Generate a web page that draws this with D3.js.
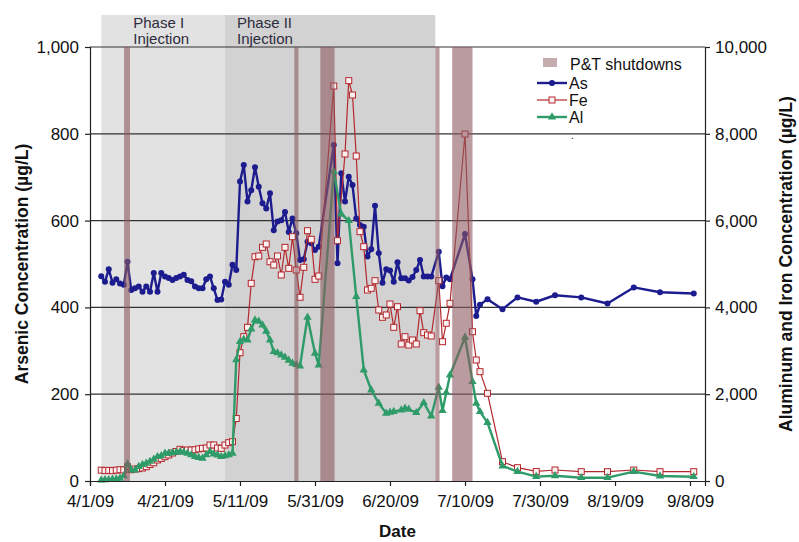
<!DOCTYPE html>
<html>
<head>
<meta charset="utf-8">
<script src="https://cdn.jsdelivr.net/npm/d3@7"></script>
<style>
  body { margin: 0; background: #fff; }
  svg { display: block; font-family: "Liberation Sans", Arial, sans-serif; }
</style>
</head>
<body>
<svg id="chart" width="799" height="542"></svg>
<script>
// sample dates and concentrations (As in ug/L, left axis; Fe and Al in ug/L, right axis)
const sampleDates = [
  "4/4/09","4/5/09","4/6/09","4/7/09","4/8/09","4/9/09","4/10/09","4/11/09","4/12/09","4/13/09",
  "4/14/09","4/15/09","4/16/09","4/17/09","4/18/09","4/19/09","4/20/09","4/21/09","4/22/09","4/23/09",
  "4/24/09","4/25/09","4/26/09","4/27/09","4/28/09","4/29/09","4/30/09","5/1/09","5/2/09","5/3/09",
  "5/4/09","5/5/09","5/6/09","5/7/09","5/8/09","5/9/09","5/10/09","5/11/09","5/12/09","5/13/09",
  "5/14/09","5/15/09","5/16/09","5/17/09","5/18/09","5/19/09","5/20/09","5/21/09","5/22/09","5/23/09",
  "5/24/09","5/25/09","5/26/09","5/27/09","5/28/09","5/29/09","5/30/09","5/31/09","6/1/09",
  "6/5/09","6/6/09","6/7/09","6/8/09","6/9/09","6/10/09","6/11/09","6/12/09","6/13/09","6/14/09",
  "6/15/09","6/16/09","6/17/09","6/18/09","6/19/09","6/20/09","6/21/09","6/22/09","6/23/09","6/24/09",
  "6/25/09","6/26/09","6/27/09","6/28/09","6/29/09","6/30/09","7/1/09",
  "7/3/09","7/4/09","7/5/09","7/6/09","7/10/09","7/12/09","7/13/09","7/14/09","7/16/09",
  "7/20/09","7/24/09","7/29/09","8/3/09","8/10/09","8/17/09","8/24/09","8/31/09","9/9/09"
];
const asValues = [
  472,459,488,457,465,455,452,505,440,444,
  448,436,448,436,479,436,479,471,468,463,
  468,471,475,463,460,448,444,444,465,471,
  444,417,418,459,452,498,486,690,728,644,
  670,723,678,640,628,663,578,598,601,620,
  574,605,571,509,511,551,548,532,540,
  774,502,709,644,701,682,605,590,586,517,
  534,634,525,457,488,485,459,504,467,467,
  462,470,486,509,471,471,471,
  528,449,469,465,569,465,380,406,419,
  396,423,413,428,423,409,446,435,432
];
const feValues = [
  250,240,245,238,250,260,255,330,260,275,
  285,300,330,380,420,484,520,560,600,645,
  680,730,700,714,714,720,740,753,760,829,
  830,760,753,829,883,906,1440,2956,3325,3541,
  4555,5168,5184,5384,5461,5053,4977,5184,4747,5384,
  4900,5629,4862,4233,4924,5767,5569,4647,4723,
  9101,5537,null,7535,9224,8894,7488,5745,5399,4401,
  4440,4615,3940,3772,3825,4078,3541,4016,3157,3325,
  3134,3249,3157,3924,3418,3364,3341,
  4615,3210,3634,4094,7995,3440,2788,2519,2020,
  445,307,220,253,215,215,253,215,215
];
const alValues = [
  23,25,30,38,45,61,120,392,250,253,
  330,380,407,450,500,560,580,637,640,650,
  660,675,660,640,600,560,540,522,600,676,
  620,599,560,580,600,637,2790,3210,3264,3249,
  3500,3710,3680,3594,3450,3249,2979,2950,2900,2850,
  2780,2712,2680,2650,null,3772,null,2942,2673,
  7127,null,6152,null,5998,null,4247,null,2558,null,
  2097,null,1790,null,1560,1580,1600,null,1636,1675,
  1652,null,1574,null,1804,null,1498,
  2159,1620,2035,2442,3311,2288,1790,1597,1344,
  346,215,100,120,76,76,215,115,99
];

// shaded periods
const phaseNames = [["Phase I", "Injection"], ["Phase II", "Injection"]];
const phaseStart = ["4/4/09 00:00", "5/7/09 00:00"];
const phaseEnd = ["5/7/09 00:00", "7/2/09 02:00"];
const shutdownStart = ["4/10/09 02:00", "5/25/09 12:00", "6/1/09 10:00", "7/2/09 02:00", "7/6/09 14:00"];
const shutdownEnd = ["4/11/09 16:00", "5/26/09 14:00", "6/5/09 05:00", "7/3/09 05:00", "7/12/09 00:00"];

const xTickLabels = ["4/1/09","4/21/09","5/11/09","5/31/09","6/20/09","7/10/09","7/30/09","8/19/09","9/8/09"];
const leftTicks = [0, 200, 400, 600, 800, 1000];
const rightTicks = [0, 2000, 4000, 6000, 8000, 10000];

const parseDay = d3.timeParse("%m/%d/%y");
const parseTime = d3.timeParse("%m/%d/%y %H:%M");

const svg = d3.select("#chart");
const plotLeft = 90, plotRight = 705, plotTop = 47, plotBottom = 481;

const x = d3.scaleTime()
  .domain([parseDay("4/1/09"), parseDay("9/12/09")])
  .range([plotLeft, plotRight]);
const yL = d3.scaleLinear().domain([0, 1000]).range([plotBottom, plotTop]);
const yR = d3.scaleLinear().domain([0, 10000]).range([plotBottom, plotTop]);

// phase shading (goes above the plot area)
const phaseFill = ["#e2e2e2", "#d2d2d2"];
phaseStart.forEach((s, i) => {
  const x0 = x(parseTime(s)), x1 = x(parseTime(phaseEnd[i]));
  svg.append("rect")
    .attr("x", x0).attr("y", 15)
    .attr("width", x1 - x0).attr("height", plotBottom - 15)
    .attr("fill", phaseFill[i]);
  const tx = x0 + (i === 0 ? 32 : 12);
  const t = svg.append("text")
    .attr("font-size", 15)
    .attr("fill", "#2c2c3c");
  phaseNames[i].forEach((line, j) => {
    t.append("tspan").attr("x", tx).attr("y", 28 + j * 16).text(line);
  });
});

// gridlines
svg.append("g")
  .selectAll("line")
  .data(leftTicks.filter(d => d > 0))
  .join("line")
  .attr("x1", plotLeft).attr("x2", plotRight)
  .attr("y1", d => yL(d)).attr("y2", d => yL(d))
  .attr("stroke", "#333").attr("stroke-width", 1.2);

// series
const rows = sampleDates.map((d, i) => ({
  date: parseDay(d), as: asValues[i], fe: feValues[i], al: alValues[i]
}));

const asColor = "#1c1c8f", feColor = "#b3282d", alColor = "#2e9b69";

function drawLine(key, scale, color, width) {
  const pts = rows.filter(r => r[key] != null);
  svg.append("path")
    .datum(pts)
    .attr("fill", "none")
    .attr("stroke", color)
    .attr("stroke-width", width)
    .attr("stroke-linejoin", "round")
    .attr("d", d3.line().x(r => x(r.date)).y(r => scale(r[key])));
  return pts;
}

const asPts = drawLine("as", yL, asColor, 2.4);
svg.append("g").selectAll("circle")
  .data(asPts).join("circle")
  .attr("cx", r => x(r.date)).attr("cy", r => yL(r.as))
  .attr("r", 3).attr("fill", asColor);

const fePts = drawLine("fe", yR, feColor, 1.2);
svg.append("g").selectAll("rect")
  .data(fePts).join("rect")
  .attr("x", r => x(r.date) - 3).attr("y", r => yR(r.fe) - 3)
  .attr("width", 6).attr("height", 6)
  .attr("fill", "#fdf0f0").attr("stroke", feColor).attr("stroke-width", 1);

const alPts = drawLine("al", yR, alColor, 2.4);
const tri = d3.symbol().type(d3.symbolTriangle).size(30);
svg.append("g").selectAll("path")
  .data(alPts).join("path")
  .attr("transform", r => `translate(${x(r.date)},${yR(r.al)})`)
  .attr("d", tri).attr("fill", alColor);

// P&T shutdown bars drawn over the data
shutdownStart.forEach((s, i) => {
  const x0 = x(parseTime(s)), x1 = x(parseTime(shutdownEnd[i]));
  svg.append("rect")
    .attr("x", x0).attr("y", plotTop)
    .attr("width", x1 - x0).attr("height", plotBottom - plotTop)
    .attr("fill", "#8c5a60").attr("opacity", 0.6);
});

// axes
const xAxis = svg.append("g")
  .attr("transform", `translate(0,${plotBottom})`)
  .call(d3.axisBottom(x)
    .tickValues(xTickLabels.map(parseDay))
    .tickFormat(d3.timeFormat("%-m/%-d/%y"))
    .tickSizeOuter(0).tickSize(5).tickPadding(9));

const yAxisL = svg.append("g")
  .attr("transform", `translate(${plotLeft},0)`)
  .call(d3.axisLeft(yL).tickValues(leftTicks).tickFormat(d3.format(","))
    .tickSizeOuter(0).tickSize(5).tickPadding(6));

const yAxisR = svg.append("g")
  .attr("transform", `translate(${plotRight},0)`)
  .call(d3.axisRight(yR).tickValues(rightTicks).tickFormat(d3.format(","))
    .tickSizeOuter(0).tickSize(5).tickPadding(5));

[xAxis, yAxisL, yAxisR].forEach(g => {
  g.select(".domain").attr("stroke", "#222").attr("stroke-width", 1.2);
  g.selectAll(".tick line").attr("stroke", "#222").attr("stroke-width", 1.2);
  g.selectAll(".tick text")
    .attr("font-size", 17)
    .attr("font-family", "'Liberation Sans', Arial, sans-serif")
    .attr("fill", "#111");
});

// axis titles
svg.append("text")
  .attr("transform", `translate(28,${(plotTop + plotBottom) / 2}) rotate(-90)`)
  .attr("text-anchor", "middle")
  .attr("font-size", 17.5).attr("font-weight", "bold").attr("fill", "#111")
  .text("Arsenic Concentration (µg/L)");

svg.append("text")
  .attr("transform", `translate(792,${(plotTop + plotBottom) / 2}) rotate(-90)`)
  .attr("text-anchor", "middle")
  .attr("font-size", 17.5).attr("font-weight", "bold").attr("fill", "#111")
  .text("Aluminum and Iron Concentration (µg/L)");

svg.append("text")
  .attr("x", (plotLeft + plotRight) / 2).attr("y", 537)
  .attr("text-anchor", "middle")
  .attr("font-size", 17).attr("font-weight", "bold").attr("fill", "#111")
  .text("Date");

// legend
const legend = svg.append("g").attr("font-size", 16).attr("fill", "#111");
legend.append("rect")
  .attr("x", 543).attr("y", 58).attr("width", 14).attr("height", 9)
  .attr("fill", "#8c5a60").attr("opacity", 0.5);
legend.append("text").attr("x", 570).attr("y", 70).text("P&T shutdowns");

const legendItems = [
  { name: "As", color: asColor, mark: "circle" },
  { name: "Fe", color: feColor, mark: "square" },
  { name: "Al", color: alColor, mark: "triangle" }
];
legendItems.forEach((it, i) => {
  const cy = 83 + i * 17;
  legend.append("line")
    .attr("x1", 537).attr("x2", 567).attr("y1", cy).attr("y2", cy)
    .attr("stroke", it.color).attr("stroke-width", it.mark === "square" ? 1.2 : 2.4);
  if (it.mark === "circle") {
    legend.append("circle").attr("cx", 552).attr("cy", cy).attr("r", 3).attr("fill", it.color);
  } else if (it.mark === "square") {
    legend.append("rect").attr("x", 549).attr("y", cy - 3).attr("width", 6).attr("height", 6)
      .attr("fill", "#fdf0f0").attr("stroke", it.color);
  } else {
    legend.append("path").attr("transform", `translate(552,${cy})`).attr("d", tri).attr("fill", it.color);
  }
  legend.append("text").attr("x", 569).attr("y", cy + 5.5).text(it.name);
});
legend.append("text").attr("x", 571).attr("y", 139).attr("font-size", 10).text(".");
</script>
</body>
</html>
